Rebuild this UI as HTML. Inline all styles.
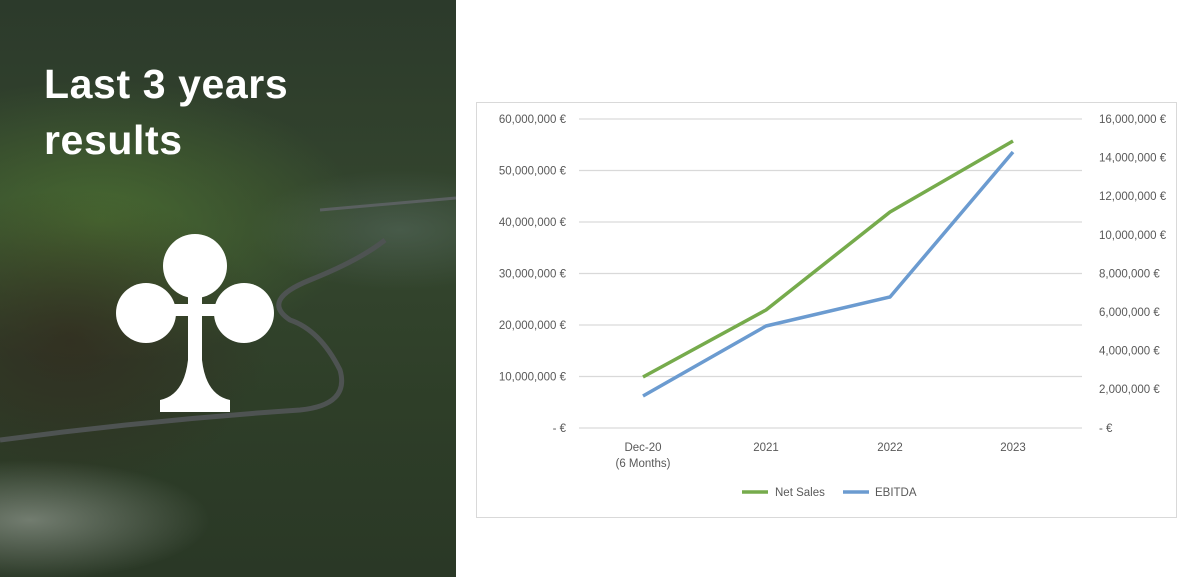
<!DOCTYPE html>
<html><head><meta charset="utf-8"><style>
body{margin:0;width:1200px;height:577px;overflow:hidden;background:#fff;font-family:"Liberation Sans",sans-serif;position:relative}
#left{position:absolute;left:0;top:0;width:456px;height:577px;background:
radial-gradient(ellipse 180px 60px at 30px 520px,rgba(200,205,200,.45),rgba(0,0,0,0)),
radial-gradient(ellipse 200px 150px at 70px 340px,rgba(50,40,30,.7),rgba(0,0,0,0)),
radial-gradient(ellipse 260px 140px at 100px 220px,rgba(80,120,50,.7),rgba(0,0,0,0)),
radial-gradient(ellipse 150px 60px at 400px 230px,rgba(90,110,100,.5),rgba(0,0,0,0)),
linear-gradient(180deg,#2c3a2b 0%,#34462e 40%,#2e3e28 70%,#2a3826 100%);}
h1{position:absolute;left:44px;top:56px;margin:0;color:#fff;font-size:41px;line-height:56px;font-weight:bold;letter-spacing:0.6px}
</style></head><body>
<div id="left">
<svg width="456" height="577" style="position:absolute;left:0;top:0">
<path d="M0 440 Q150 420 300 410 Q350 405 340 370 Q320 330 290 320 Q260 300 310 280 Q360 260 385 240" stroke="#4e5352" stroke-width="5" fill="none"/>
<path d="M320 210 L456 198" stroke="#5a6060" stroke-width="3" fill="none"/>
<circle cx="195" cy="266" r="32" fill="#fff"/>
<circle cx="146" cy="313" r="30" fill="#fff"/>
<circle cx="244" cy="313" r="30" fill="#fff"/>
<path d="M188 290 L202 290 L202 360 Q206 395 230 400 L230 412 L160 412 L160 400 Q184 395 188 360 Z" fill="#fff"/>
<rect x="170" y="304" width="50" height="12" fill="#fff"/>
</svg>
<h1>Last 3 years<br>results</h1>
</div>
<svg width="1200" height="577" style="position:absolute;left:0;top:0" font-family="Liberation Sans, sans-serif" font-size="11.5" fill="#595959">
<rect x="476.5" y="102.5" width="700" height="415" fill="none" stroke="#d9d9d9"/>
<g stroke="#d9d9d9" stroke-width="1.3">
<line x1="579" x2="1082" y1="119" y2="119"/><line x1="579" x2="1082" y1="170.5" y2="170.5"/>
<line x1="579" x2="1082" y1="222" y2="222"/><line x1="579" x2="1082" y1="273.5" y2="273.5"/>
<line x1="579" x2="1082" y1="325" y2="325"/><line x1="579" x2="1082" y1="376.5" y2="376.5"/>
<line x1="579" x2="1082" y1="428" y2="428"/></g>
<g text-anchor="end">
<text x="566" y="123">60,000,000  €</text><text x="566" y="174.5">50,000,000  €</text>
<text x="566" y="226">40,000,000  €</text><text x="566" y="277.5">30,000,000  €</text>
<text x="566" y="329">20,000,000  €</text><text x="566" y="380.5">10,000,000  €</text>
<text x="566" y="432">-  €</text></g>
<g text-anchor="start">
<text x="1099" y="123">16,000,000  €</text><text x="1099" y="161.6">14,000,000  €</text>
<text x="1099" y="200.2">12,000,000  €</text><text x="1099" y="238.8">10,000,000  €</text>
<text x="1099" y="277.4">8,000,000  €</text><text x="1099" y="316">6,000,000  €</text>
<text x="1099" y="354.6">4,000,000  €</text><text x="1099" y="393.2">2,000,000  €</text>
<text x="1099" y="432">-  €</text></g>
<g text-anchor="middle">
<text x="643" y="451">Dec-20</text><text x="643" y="467">(6 Months)</text>
<text x="766" y="451">2021</text><text x="890" y="451">2022</text><text x="1013" y="451">2023</text></g>
<polyline points="643,377 766,310 890,212 1013,141" fill="none" stroke="#76ab4c" stroke-width="3.5" stroke-linejoin="round"/>
<polyline points="643,396 766,326 890,297 1013,152" fill="none" stroke="#6b9bd0" stroke-width="3.5" stroke-linejoin="round"/>
<line x1="742" x2="768" y1="492" y2="492" stroke="#76ab4c" stroke-width="3.5"/>
<text x="775" y="496">Net Sales</text>
<line x1="843" x2="869" y1="492" y2="492" stroke="#6b9bd0" stroke-width="3.5"/>
<text x="875" y="496">EBITDA</text>
</svg>
</body></html>
